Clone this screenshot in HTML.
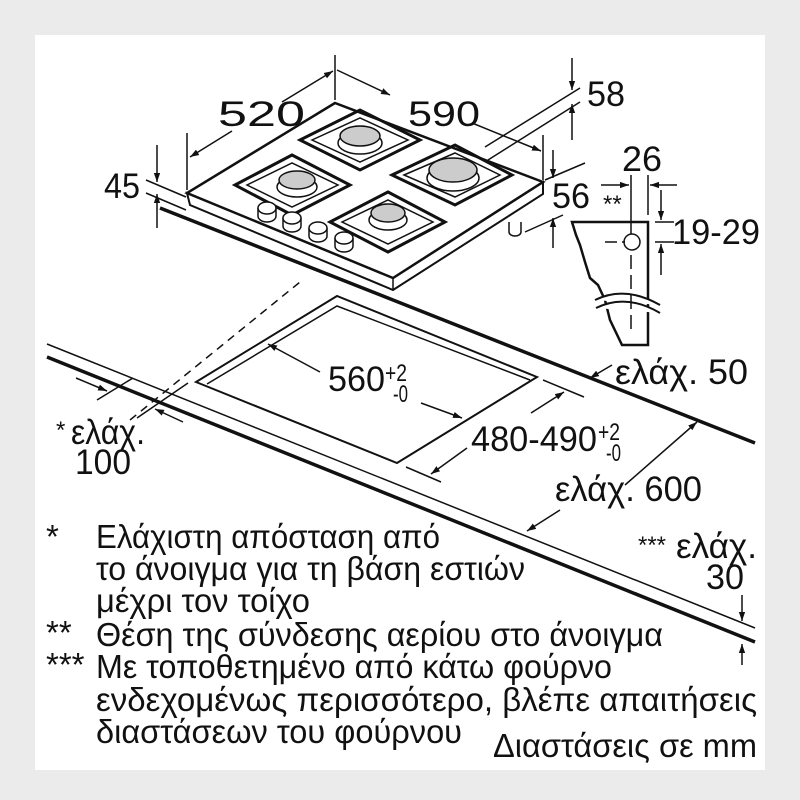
<!DOCTYPE html>
<html><head><meta charset="utf-8"><style>
html,body{margin:0;padding:0;background:#ebebeb;}
svg{display:block;}
text{font-family:"Liberation Sans",sans-serif;fill:#111;}
</style></head><body>
<svg width="800" height="800" viewBox="0 0 800 800" xmlns="http://www.w3.org/2000/svg">
<defs>
<marker id="a" viewBox="0 0 10 10" refX="10" refY="5" markerWidth="9" markerHeight="9" orient="auto-start-reverse" markerUnits="userSpaceOnUse"><path d="M0,1.5 L10,5 L0,8.5 z" fill="#111"/></marker>
</defs>
<rect x="0" y="0" width="800" height="800" fill="#ebebeb"/>
<rect x="35" y="35" width="730" height="735" fill="#fff"/>
<g stroke="#111" fill="none" stroke-width="1.5">
<line x1="47" y1="344" x2="755" y2="628"/>
<line x1="47" y1="357" x2="755" y2="642" stroke-width="3.5"/>
<line x1="160" y1="208" x2="755" y2="443" stroke-width="3.5"/>
<line x1="130" y1="420" x2="300" y2="282" stroke-dasharray="8,6"/>
<polygon points="337,296 196,382 397,463 537,377" stroke-width="2"/>
<polyline points="207,384 337,306 530,380"/>
<polygon points="187,193 190,205 393,290 543,194 543,182 393,278" fill="#fff" stroke-width="2"/>
<polygon points="335,103 187,193 393,278 543,182" fill="#fff" stroke-width="2.5"/>
<line x1="393" y1="278" x2="393" y2="290"/>
</g>
<g stroke="#111" fill="none" stroke-width="3">
<polygon points="300,140 360,110 420,140 360,170"/>
<polygon points="235,185 292,155 350,185 292,215"/>
<polygon points="392,175 455,145 512,175 455,205"/>
<polygon points="330,222 388,192 445,222 388,252"/>
</g>
<g stroke="#111" fill="none" stroke-width="1.5">
<polygon points="312,140 360,118 408,140 360,162"/>
<polygon points="247,185 292,163 338,185 292,207"/>
<polygon points="404,175 455,153 500,175 455,197"/>
<polygon points="342,222 388,200 433,222 388,244"/>
</g>
<g stroke="#111" stroke-width="1.5">
<ellipse cx="360" cy="143" rx="22" ry="11" fill="#fff"/><ellipse cx="360" cy="136" rx="20" ry="10" fill="#ccc"/>
<ellipse cx="297" cy="187" rx="20" ry="10" fill="#fff"/><ellipse cx="297" cy="180" rx="18" ry="9" fill="#ccc"/>
<ellipse cx="453" cy="178" rx="26" ry="13" fill="#fff"/><ellipse cx="453" cy="170" rx="24" ry="12" fill="#ccc"/>
<ellipse cx="388" cy="220" rx="19" ry="10" fill="#fff"/><ellipse cx="388" cy="213" rx="17" ry="9" fill="#ccc"/>
</g>
<g stroke="#111" stroke-width="1.5" fill="#fff">
<path d="M258,208 v8 a9,6 0 0 0 18,0 v-8"/><ellipse cx="267" cy="208" rx="9" ry="6"/>
<path d="M283,218 v8 a9,6 0 0 0 18,0 v-8"/><ellipse cx="292" cy="218" rx="9" ry="6"/>
<path d="M309,228 v8 a9,6 0 0 0 18,0 v-8"/><ellipse cx="318" cy="228" rx="9" ry="6"/>
<path d="M335,238 v8 a9,6 0 0 0 18,0 v-8"/><ellipse cx="344" cy="238" rx="9" ry="6"/>
<path d="M509,222 v10 a6,4 0 0 0 12,0 v-10"/>
</g>
<g stroke="#111" fill="none" stroke-width="1.5">
<line x1="335" y1="55" x2="335" y2="100"/>
<line x1="187" y1="133" x2="187" y2="190"/>
<line x1="543" y1="135" x2="543" y2="180"/>
<line x1="282" y1="102" x2="333" y2="71" marker-end="url(#a)"/>
<line x1="232" y1="131" x2="190" y2="157" marker-end="url(#a)"/>
<line x1="390" y1="95" x2="337" y2="70" marker-start="url(#a)" />
<line x1="472" y1="123" x2="541" y2="151" marker-end="url(#a)"/>
<line x1="485" y1="147" x2="580" y2="88"/>
<line x1="488" y1="160" x2="580" y2="102"/>
<line x1="572" y1="58" x2="572" y2="90" marker-end="url(#a)"/>
<line x1="572" y1="140" x2="572" y2="104" marker-end="url(#a)"/>
<line x1="146" y1="180" x2="186" y2="197"/>
<line x1="146" y1="193" x2="186" y2="210"/>
<line x1="157" y1="145" x2="157" y2="182" marker-end="url(#a)"/>
<line x1="157" y1="228" x2="157" y2="194" marker-end="url(#a)"/>
<line x1="545" y1="180" x2="585" y2="163"/>
<line x1="525" y1="232" x2="563" y2="215"/>
<line x1="553" y1="150" x2="553" y2="178" marker-end="url(#a)"/>
<line x1="553" y1="248" x2="553" y2="218" marker-end="url(#a)"/>
<path d="M572,222 L648,222 L648,345 L622,345 L610,320 L605,300 L598,285 L590,278 L585,262 L580,245 L576,235 Z" stroke-width="2.5" fill="#fff"/>
<path d="M595,300 Q625,285 660,305 M596,308 Q626,293 660,313" stroke-width="2" fill="#fff"/>
<circle cx="632" cy="242" r="8"/>
<line x1="605" y1="242" x2="625" y2="242" stroke-dasharray="12,5"/>
<line x1="631" y1="255" x2="631" y2="335" stroke-dasharray="14,6"/>
<line x1="631" y1="175" x2="631" y2="234"/>
<line x1="648" y1="175" x2="648" y2="215"/>
<line x1="601" y1="185" x2="629" y2="185" marker-end="url(#a)"/>
<line x1="677" y1="185" x2="650" y2="185" marker-end="url(#a)"/>
<line x1="655" y1="222" x2="674" y2="222"/>
<line x1="655" y1="242" x2="674" y2="242"/>
<line x1="661" y1="190" x2="661" y2="220" marker-end="url(#a)"/>
<line x1="661" y1="275" x2="661" y2="244" marker-end="url(#a)"/>
<line x1="320" y1="372" x2="268" y2="344" marker-end="url(#a)"/>
<line x1="421" y1="403" x2="462" y2="418" marker-end="url(#a)"/>
<line x1="543" y1="380" x2="584" y2="397"/>
<line x1="406" y1="467" x2="441" y2="482"/>
<line x1="531" y1="413" x2="564" y2="392" marker-end="url(#a)"/>
<line x1="467" y1="448" x2="431" y2="474" marker-end="url(#a)"/>
<line x1="612" y1="365" x2="590" y2="378" marker-end="url(#a)"/>
<line x1="625" y1="485" x2="697" y2="422" marker-end="url(#a)"/>
<line x1="560" y1="510" x2="527" y2="531" marker-end="url(#a)"/>
<line x1="97" y1="400" x2="133" y2="378"/>
<line x1="137" y1="418" x2="188" y2="383"/>
<line x1="76" y1="378" x2="107" y2="391" marker-end="url(#a)"/>
<line x1="183" y1="422" x2="155" y2="409" marker-end="url(#a)"/>
<line x1="742" y1="595" x2="742" y2="621" marker-end="url(#a)"/>
<line x1="742" y1="665" x2="742" y2="644" marker-end="url(#a)"/>
</g>
<g font-size="35">
<text x="218" y="126" textLength="87" lengthAdjust="spacingAndGlyphs">520</text>
<text x="408" y="126" textLength="72" lengthAdjust="spacingAndGlyphs">590</text>
<text x="587" y="106" textLength="38" lengthAdjust="spacingAndGlyphs">58</text>
<text x="104" y="198" textLength="36" lengthAdjust="spacingAndGlyphs">45</text>
<text x="552" y="208" textLength="38" lengthAdjust="spacingAndGlyphs">56</text>
<text x="622" y="171" textLength="40" lengthAdjust="spacingAndGlyphs">26</text>
<text x="672" y="244" textLength="88" lengthAdjust="spacingAndGlyphs">19-29</text>
<text x="328" y="391" textLength="57" lengthAdjust="spacingAndGlyphs">560</text>
<text x="615" y="384" textLength="133" lengthAdjust="spacingAndGlyphs">ελάχ. 50</text>
<text x="71" y="444" textLength="74" lengthAdjust="spacingAndGlyphs">ελάχ.</text>
<text x="75" y="474" textLength="56" lengthAdjust="spacingAndGlyphs">100</text>
<text x="471" y="451" textLength="126" lengthAdjust="spacingAndGlyphs">480-490</text>
<text x="555" y="501" textLength="147" lengthAdjust="spacingAndGlyphs">ελάχ. 600</text>
<text x="676" y="558" textLength="81" lengthAdjust="spacingAndGlyphs">ελάχ.</text>
<text x="706" y="589" textLength="38" lengthAdjust="spacingAndGlyphs">30</text>
</g>
<g font-size="24">
<text x="385" y="381" textLength="22" lengthAdjust="spacingAndGlyphs">+2</text>
<text x="393" y="402" textLength="15" lengthAdjust="spacingAndGlyphs">-0</text>
<text x="598" y="440" textLength="22" lengthAdjust="spacingAndGlyphs">+2</text>
<text x="606" y="461" textLength="15" lengthAdjust="spacingAndGlyphs">-0</text>
<text x="603" y="212">**</text>
<text x="56" y="438">*</text>
<text x="638" y="553">***</text>
</g>
<g font-size="33">
<text x="46" y="548">*</text>
<text x="96" y="548" textLength="344" lengthAdjust="spacingAndGlyphs">Ελάχιστη απόσταση από</text>
<text x="96" y="580" textLength="429" lengthAdjust="spacingAndGlyphs">το άνοιγμα για τη βάση εστιών</text>
<text x="96" y="612" textLength="214" lengthAdjust="spacingAndGlyphs">μέχρι τον τοίχο</text>
<text x="46" y="644">**</text>
<text x="96" y="646" textLength="567" lengthAdjust="spacingAndGlyphs">Θέση της σύνδεσης αερίου στο άνοιγμα</text>
<text x="46" y="676">***</text>
<text x="96" y="678" textLength="516" lengthAdjust="spacingAndGlyphs">Με τοποθετημένο από κάτω φούρνο</text>
<text x="96" y="711" textLength="661" lengthAdjust="spacingAndGlyphs">ενδεχομένως περισσότερο, βλέπε απαιτήσεις</text>
<text x="96" y="743" textLength="366" lengthAdjust="spacingAndGlyphs">διαστάσεων του φούρνου</text>
<text x="493" y="757" textLength="264" lengthAdjust="spacingAndGlyphs">Διαστάσεις σε mm</text>
</g>
</svg>
</body></html>
